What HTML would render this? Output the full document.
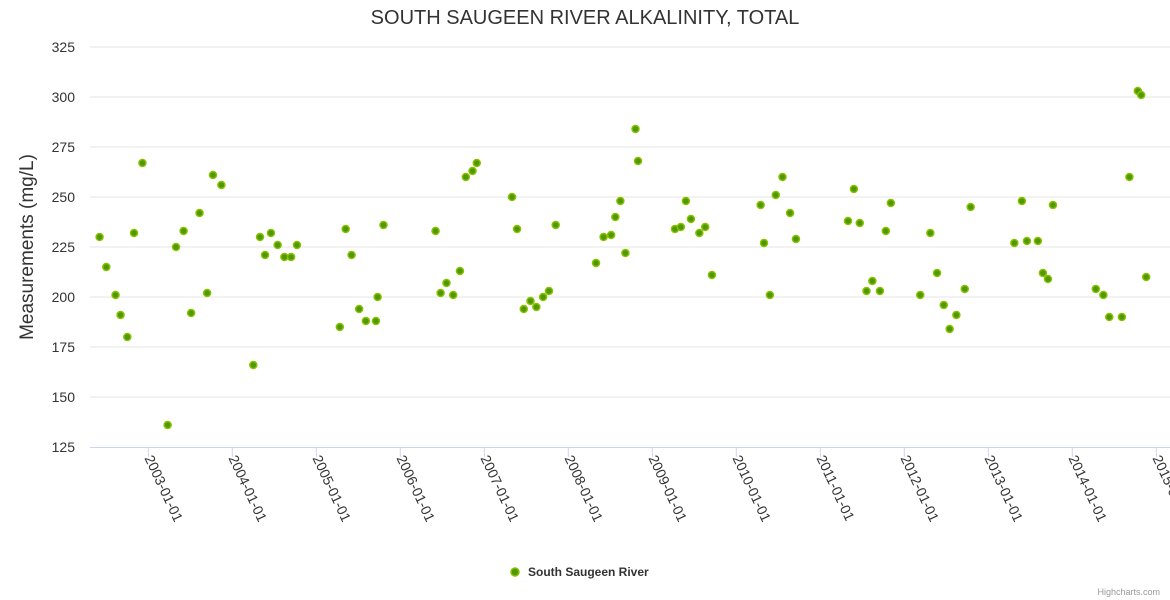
<!DOCTYPE html>
<html><head><meta charset="utf-8"><style>
body{margin:0;background:#fff;font-family:"Liberation Sans",sans-serif}
</style></head><body>
<svg id="chart" width="1170" height="600" xmlns="http://www.w3.org/2000/svg" style="display:block">
<text x="585" y="24" text-anchor="middle" font-size="20" fill="#333" font-family="Liberation Sans, sans-serif">SOUTH SAUGEEN RIVER ALKALINITY, TOTAL</text>
<text transform="translate(33,247) rotate(-90)" text-anchor="middle" font-size="19" fill="#333">Measurements (mg/L)</text>
<g id="grid"></g>
<g id="xaxis"></g>
<g id="points"></g>
<g>
<circle cx="515" cy="572" r="4" fill="#4c9a00" stroke="#8bc000" stroke-width="1.5"/>
<text x="528" y="576" font-size="12" font-weight="bold" fill="#333">South Saugeen River</text>
</g>
<text x="1160" y="595" text-anchor="end" font-size="9" fill="#999">Highcharts.com</text>
</svg>
<script>
const yTicks=[125,150,175,200,225,250,275,300,325];
const xTickYears=[2003,2004,2005,2006,2007,2008,2009,2010,2011,2012,2013,2014,2015];
const dates=[2002.42,2002.50,2002.61,2002.67,2002.75,2002.83,2002.93,2003.23,2003.33,2003.42,2003.51,2003.61,2003.70,2003.77,2003.87,2004.25,2004.33,2004.39,2004.46,2004.54,2004.62,2004.70,2004.77,2005.28,2005.35,2005.42,2005.51,2005.59,2005.71,2005.73,2005.80,2006.42,2006.48,2006.55,2006.63,2006.71,2006.78,2006.86,2006.91,2007.33,2007.39,2007.47,2007.55,2007.62,2007.70,2007.77,2007.85,2008.33,2008.42,2008.51,2008.56,2008.62,2008.68,2008.80,2008.83,2009.27,2009.34,2009.40,2009.46,2009.56,2009.63,2009.71,2010.29,2010.33,2010.40,2010.47,2010.55,2010.64,2010.71,2011.33,2011.40,2011.47,2011.55,2011.62,2011.71,2011.78,2011.84,2012.19,2012.31,2012.39,2012.47,2012.54,2012.62,2012.72,2012.79,2013.31,2013.40,2013.46,2013.59,2013.65,2013.71,2013.77,2014.28,2014.37,2014.44,2014.59,2014.68,2014.78,2014.82,2014.88];
const values=[230,215,201,191,180,232,267,136,225,233,192,242,202,261,256,166,230,221,232,226,220,220,226,185,234,221,194,188,188,200,236,233,202,207,201,213,260,263,267,250,234,194,198,195,200,203,236,217,230,231,240,248,222,284,268,234,235,248,239,232,235,211,246,227,201,251,260,242,229,238,254,237,203,208,203,233,247,201,232,212,196,184,191,204,245,227,248,228,228,212,209,246,204,201,190,190,260,303,301,210];
const NS='http://www.w3.org/2000/svg';
const plotLeft=90,plotRight=1170,plotTop=47,plotBottom=447;
function yScale(v){return plotBottom-(v-125)/(325-125)*(plotBottom-plotTop);}
function xScale(t){return 148.3+(t-2003)*84;}
function mk(tag,attrs,parent){const e=document.createElementNS(NS,tag);for(const k in attrs)e.setAttribute(k,attrs[k]);parent.appendChild(e);return e;}
const grid=document.getElementById('grid');
yTicks.forEach(v=>{
  if(v!==125){const l=mk('line',{x1:plotLeft,x2:plotRight,y1:yScale(v),y2:yScale(v),stroke:'#e6e6e6','stroke-width':1},grid);
  
  }
  const t=mk('text',{x:75,y:yScale(v)+5,'text-anchor':'end','font-size':14,fill:'#333'},grid);
  
  
  t.textContent=v;
});
const xa=document.getElementById('xaxis');
const al=mk('line',{x1:plotLeft,x2:plotRight,y1:plotBottom+0.5,y2:plotBottom+0.5,stroke:'#ccd6eb','stroke-width':1},xa);


xTickYears.forEach(yr=>{
  const x=xScale(yr);
  const tk=mk('line',{x1:x,x2:x,y1:plotBottom,y2:plotBottom+10,stroke:'#ccd6eb','stroke-width':1},xa);
  
  
  const t=mk('text',{transform:`translate(${x-4},${plotBottom+11}) rotate(65)`,'font-size':14,fill:'#333'},xa);
  
  
  t.textContent=yr+'-01-01';
});
const pts=document.getElementById('points');
dates.forEach((d,i)=>{
  const c=mk('circle',{cx:xScale(d),cy:yScale(values[i]),r:3.5,fill:'#4c9a00',stroke:'#8bc000','stroke-width':1.5},pts);
  
  
});
</script>
</body></html>
